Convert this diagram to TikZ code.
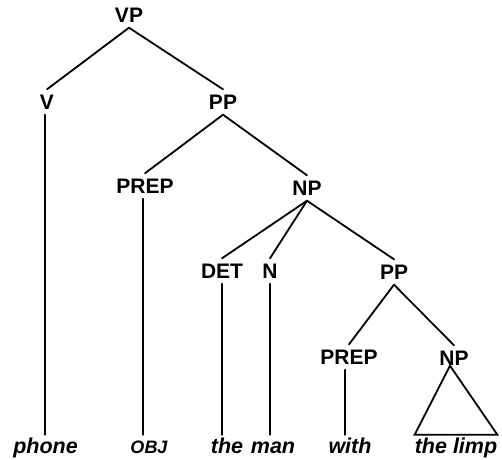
\documentclass[tikz,border=0pt]{standalone}
\usepackage{fontspec}
\setmainfont{Liberation Sans}
\begin{document}
\begin{tikzpicture}[x=1pt,y=-1pt,
  cat/.style={font=\fontsize{21}{23}\selectfont\bfseries, inner sep=5pt, text height=15pt, text depth=0pt},
  word/.style={font=\fontsize{21.5}{23}\selectfont\bfseries\itshape, anchor=base, inner xsep=0pt, inner ysep=2.5pt, text height=15.5pt, text depth=0pt},
  small/.style={word, font=\fontsize{18}{20}\selectfont\bfseries\itshape},
  edge/.style={line width=1.8pt, line cap=round}]
\useasboundingbox (0,0) rectangle (502,459);
\node[cat] (vp) at (129,15) {VP};
\node[cat] (v) at (47,102) {V};
\node[cat] (pp1) at (223,102) {PP};
\node[cat] (prep1) at (145,186) {PREP};
\node[cat] (np1) at (307,188) {NP};
\node[cat] (det) at (222,271) {DET};
\node[cat] (n) at (270,271) {N};
\node[cat] (pp2) at (394,272) {PP};
\node[cat] (prep2) at (349,357) {PREP};
\node[cat] (np2) at (454,358) {NP};
\node[word] (phone) at (45.5,453) {phone};
\node[small] (obj) at (149,453) {OBJ};
\node[word] (the) at (227,453) {the};
\node[word] (man) at (273,453) {man};
\node[word] (with) at (350,453) {with};
\node[word] (limp) at (456,453) {the limp};
\draw[edge] (vp.south) -- (v.north);
\draw[edge] (vp.south) -- (pp1.north);
\draw[edge] (pp1.south) -- (prep1.north);
\draw[edge] (pp1.south) -- (np1.north);
\draw[edge] (np1.south) -- (det.north);
\draw[edge] (np1.south) -- (n.north);
\draw[edge] (np1.south) -- (pp2.north);
\draw[edge] (pp2.south) -- (prep2.north);
\draw[edge] (pp2.south) -- (np2.north);
\draw[edge] ([xshift=-2pt]v.south) -- ([xshift=-2pt]v.south |- phone.north);
\draw[edge] ([xshift=-2pt]prep1.south) -- ([xshift=-2pt]prep1.south |- obj.north);
\draw[edge] (det.south) -- (det.south |- the.north);
\draw[edge] (n.south) -- (n.south |- man.north);
\draw[edge] ([xshift=-4pt]prep2.south) -- ([xshift=-4pt]prep2.south |- with.north);
\coordinate (apex) at ([xshift=-4pt,yshift=5pt]np2.south);
\draw[edge, line join=miter] (apex) -- (limp.north east) -- (limp.north west) -- cycle;
\end{tikzpicture}
\end{document}
